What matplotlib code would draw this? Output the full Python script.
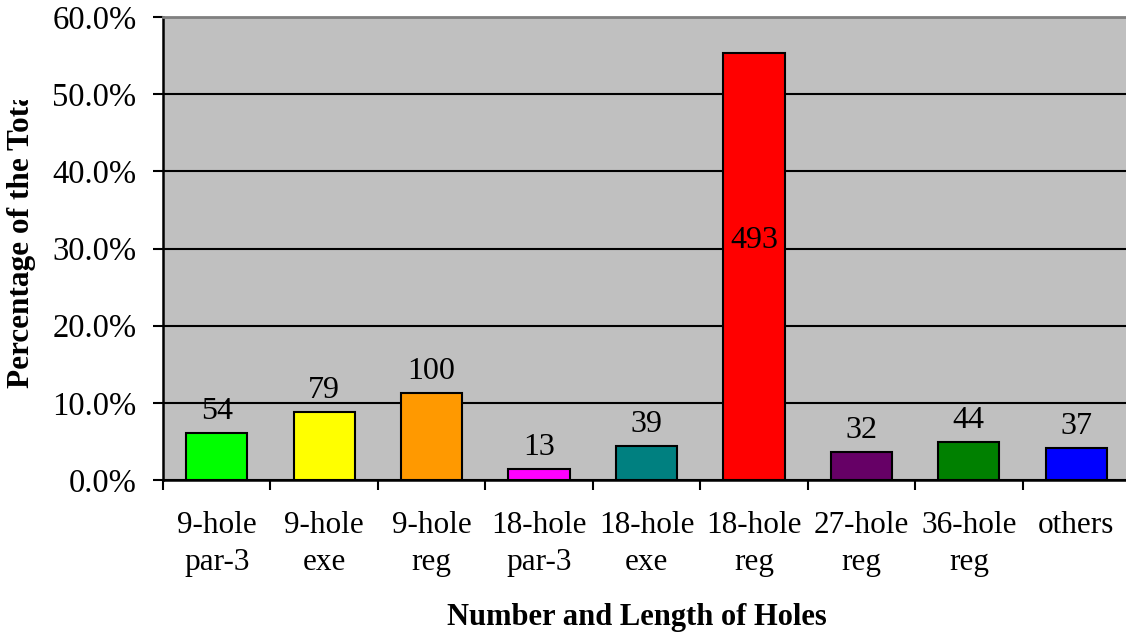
import matplotlib
matplotlib.use("Agg")
import matplotlib.pyplot as plt
from matplotlib.patches import Rectangle
import numpy as np

# data
categories = ["9-hole\npar-3", "9-hole\nexe", "9-hole\nreg", "18-hole\npar-3", "18-hole\nexe",
              "18-hole\nreg", "27-hole\nreg", "36-hole\nreg", "others"]
counts = [54, 79, 100, 13, 39, 493, 32, 44, 37]
colors = ["#00FF00", "#FFFF00", "#FF9900", "#FF00FF", "#008080",
          "#FF0000", "#660066", "#008000", "#0000FF"]
yticks = [0, 10, 20, 30, 40, 50, 60]

pct = 100 * np.array(counts) / sum(counts)

plt.rcParams["font.family"] = ["Liberation Serif", "DejaVu Serif"]

W, H = 1126, 633
fig = plt.figure(figsize=(W / 100, H / 100), dpi=100)
ax = fig.add_axes([163 / W, (H - 480) / H, 967 / W, 463 / H])
ax.set_facecolor("#C0C0C0")

x = np.arange(len(categories))
ax.bar(x, pct, width=0.57, color=colors, edgecolor="black", linewidth=1.5, zorder=3)

for i, (c, p) in enumerate(zip(counts, pct)):
    if p > 50:
        ax.text(i, 31.1, str(c), ha="center", va="center", fontsize=23, zorder=4)
    else:
        ax.annotate(str(c), (i, p), xytext=(0, 5), textcoords="offset points",
                    ha="center", va="bottom", fontsize=23, zorder=4)

ax.set_xlim(-0.5, len(categories) - 0.5)
ax.set_ylim(0, 60)
ax.set_yticks(yticks)
ax.set_yticklabels([f"{v:.1f}%" for v in yticks], fontsize=23.5)
ax.yaxis.grid(True, color="black", linewidth=1.5, zorder=1)
ax.set_axisbelow(True)
ax.tick_params(axis="y", direction="out", length=7, width=1.5, pad=12)

# ticks at category boundaries, labels at centres
ax.set_xticks(np.arange(len(categories) + 1) - 0.5)
ax.set_xticklabels([])
ax.set_xticks(x, minor=True)
ax.set_xticklabels(categories, minor=True, fontsize=22.5, linespacing=1.38)
ax.tick_params(axis="x", which="major", direction="out", length=7, width=1.5)
ax.tick_params(axis="x", which="minor", length=0, pad=22)

for s in ["left", "bottom"]:
    ax.spines[s].set_color("black")
    ax.spines[s].set_linewidth(1.8)
ax.spines["top"].set_color("#808080")
ax.spines["top"].set_linewidth(2)
ax.spines["right"].set_visible(False)

# y label is cut off at the top in the original
ylab = fig.text(22 / W, (H - 388) / H, "Percentage of the Total", rotation=90,
                ha="center", va="bottom", fontsize=22.5, fontweight="bold")
clip = Rectangle((0, 0), 1, (H - 100) / H, transform=fig.transFigure, visible=False)
ylab.set_clip_path(clip)
ylab.set_clip_on(True)

fig.text(637 / W, 1 - 618 / H, "Number and Length of Holes", ha="center", va="center",
         fontsize=22, fontweight="bold")

fig.savefig("out.png", dpi=100)
